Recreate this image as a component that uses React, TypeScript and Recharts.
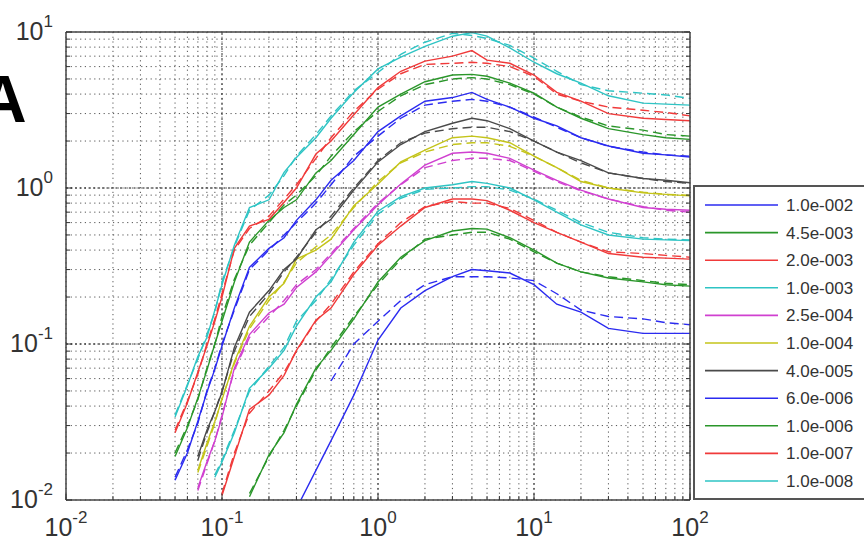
import { LineChart, Line, XAxis, YAxis, CartesianGrid, ReferenceLine } from 'recharts'

// shared x positions (log spaced)
const xValues = [0.05, 0.06, 0.07, 0.08, 0.09, 0.1, 0.12, 0.15, 0.2, 0.25, 0.3, 0.4, 0.5, 0.7, 1, 1.4, 2, 3, 4, 5, 7, 10, 14, 20, 30, 50, 70, 100]

// solid curves
const s1e2 = [null, null, null, null, null, null, null, null, null, null, 0.0088, 0.0155, 0.024, 0.047, 0.106, 0.17, 0.22, 0.27, 0.3, 0.295, 0.285, 0.24, 0.18, 0.16, 0.126, 0.117, 0.117, 0.117]
const s45e3 = [null, null, null, null, null, null, null, 0.0105, 0.0195, 0.027, 0.041, 0.07, 0.091, 0.145, 0.25, 0.36, 0.46, 0.53, 0.55, 0.545, 0.48, 0.4, 0.33, 0.29, 0.265, 0.25, 0.24, 0.235]
const s2e3 = [null, null, null, null, null, 0.0107, 0.019, 0.038, 0.047, 0.063, 0.091, 0.142, 0.17, 0.28, 0.43, 0.57, 0.75, 0.85, 0.85, 0.83, 0.72, 0.6, 0.52, 0.45, 0.38, 0.36, 0.355, 0.35]
const s1e3 = [null, null, null, null, 0.014, 0.0175, 0.027, 0.052, 0.07, 0.091, 0.13, 0.2, 0.25, 0.45, 0.71, 0.88, 1.0, 1.05, 1.1, 1.07, 1.0, 0.84, 0.7, 0.58, 0.5, 0.47, 0.465, 0.46]
const s25e4 = [null, null, 0.012, 0.0175, 0.024, 0.034, 0.07, 0.115, 0.158, 0.18, 0.23, 0.29, 0.37, 0.54, 0.78, 1.06, 1.4, 1.67, 1.7, 1.67, 1.55, 1.3, 1.12, 0.97, 0.85, 0.75, 0.73, 0.72]
const s1e4 = [null, null, 0.0155, 0.023, 0.032, 0.044, 0.077, 0.13, 0.2, 0.245, 0.35, 0.4, 0.47, 0.77, 1.06, 1.47, 1.75, 2.1, 2.15, 2.1, 1.95, 1.6, 1.35, 1.1, 1.0, 0.93, 0.91, 0.89]
const s4e5 = [null, null, 0.019, 0.028, 0.037, 0.049, 0.095, 0.16, 0.22, 0.3, 0.35, 0.54, 0.63, 0.97, 1.47, 1.9, 2.3, 2.6, 2.8, 2.7, 2.4, 2.0, 1.7, 1.5, 1.25, 1.15, 1.12, 1.08]
const s6e6 = [0.0134, 0.02, 0.032, 0.049, 0.069, 0.097, 0.17, 0.31, 0.41, 0.48, 0.62, 0.84, 1.12, 1.5, 2.3, 2.9, 3.6, 3.8, 4.1, 3.7, 3.3, 2.8, 2.5, 2.1, 1.86, 1.67, 1.63, 1.58]
const s1e6 = [0.019, 0.029, 0.045, 0.068, 0.1, 0.14, 0.25, 0.45, 0.62, 0.75, 0.84, 1.25, 1.5, 2.2, 3.3, 4.0, 4.8, 5.3, 5.35, 5.2, 4.7, 4.05, 3.3, 2.8, 2.4, 2.2, 2.1, 2.05]
const s1e7 = [0.027, 0.042, 0.066, 0.097, 0.14, 0.2, 0.41, 0.57, 0.63, 0.81, 1.0, 1.65, 2.0, 2.95, 4.4, 5.6, 6.5, 7.0, 7.6, 6.6, 6.3, 5.3, 4.1, 3.6, 3.0, 2.8, 2.75, 2.7]
const s1e8 = [0.034, 0.054, 0.083, 0.11, 0.165, 0.24, 0.43, 0.75, 0.84, 1.26, 1.57, 2.1, 2.8, 4.1, 5.8, 6.9, 8.1, 9.4, 9.9, 9.4, 7.9, 6.4, 5.4, 4.7, 3.9, 3.5, 3.45, 3.4]

// dashed curves
const d1e2 = [null, null, null, null, null, null, null, null, null, null, null, null, 0.058, 0.1, 0.14, 0.19, 0.24, 0.27, 0.27, 0.27, 0.265, 0.255, 0.21, 0.165, 0.15, 0.145, 0.137, 0.133]
const d45e3 = [null, null, null, null, null, null, null, 0.011, 0.019, 0.028, 0.04, 0.068, 0.095, 0.15, 0.24, 0.35, 0.47, 0.5, 0.52, 0.52, 0.47, 0.39, 0.33, 0.29, 0.27, 0.255, 0.245, 0.24]
const d2e3 = [null, null, null, null, null, 0.011, 0.02, 0.036, 0.05, 0.066, 0.09, 0.14, 0.18, 0.29, 0.44, 0.6, 0.76, 0.82, 0.8, 0.8, 0.74, 0.62, 0.52, 0.45, 0.39, 0.38, 0.37, 0.36]
const d1e3 = [null, null, null, null, 0.0145, 0.018, 0.028, 0.05, 0.072, 0.095, 0.14, 0.19, 0.26, 0.43, 0.68, 0.86, 0.98, 1.0, 1.02, 1.02, 0.97, 0.85, 0.72, 0.6, 0.52, 0.48, 0.47, 0.465]
const d25e4 = [null, null, 0.0115, 0.017, 0.024, 0.035, 0.068, 0.11, 0.15, 0.19, 0.24, 0.3, 0.38, 0.55, 0.8, 1.05, 1.35, 1.5, 1.55, 1.55, 1.5, 1.28, 1.1, 0.96, 0.85, 0.76, 0.72, 0.7]
const d1e4 = [null, null, 0.015, 0.022, 0.031, 0.045, 0.075, 0.125, 0.19, 0.25, 0.33, 0.42, 0.5, 0.75, 1.1, 1.45, 1.7, 1.9, 1.95, 1.95, 1.85, 1.6, 1.35, 1.12, 1.0, 0.94, 0.91, 0.9]
const d4e5 = [null, null, 0.018, 0.027, 0.037, 0.05, 0.09, 0.15, 0.21, 0.29, 0.36, 0.52, 0.66, 1.0, 1.5, 1.95, 2.25, 2.4, 2.45, 2.45, 2.3, 2.0, 1.7, 1.45, 1.25, 1.15, 1.1, 1.07]
const d6e6 = [0.014, 0.021, 0.031, 0.05, 0.07, 0.1, 0.165, 0.3, 0.4, 0.5, 0.6, 0.8, 1.05, 1.6, 2.15, 2.8, 3.4, 3.6, 3.7, 3.6, 3.3, 2.85, 2.45, 2.1, 1.85, 1.7, 1.63, 1.6]
const d1e6 = [0.02, 0.03, 0.044, 0.07, 0.1, 0.15, 0.26, 0.43, 0.6, 0.78, 0.9, 1.2, 1.6, 2.3, 3.1, 3.9, 4.6, 5.0, 5.1, 5.0, 4.6, 4.0, 3.3, 2.85, 2.5, 2.35, 2.2, 2.15]
const d1e7 = [0.028, 0.043, 0.064, 0.1, 0.145, 0.21, 0.4, 0.55, 0.66, 0.85, 1.05, 1.55, 2.1, 3.1, 4.3, 5.4, 6.2, 6.3, 6.4, 6.3, 6.0, 5.2, 4.0, 3.6, 3.3, 3.15, 3.05, 2.9]
const d1e8 = [0.035, 0.055, 0.08, 0.115, 0.16, 0.25, 0.42, 0.72, 0.9, 1.2, 1.6, 2.2, 2.9, 4.2, 5.5, 7.2, 8.6, 9.8, 9.5, 9.1, 8.2, 6.8, 5.6, 4.6, 4.2, 4.05, 3.95, 3.75]

const seriesNames = ['1.0e-002', '4.5e-003', '2.0e-003', '1.0e-003', '2.5e-004', '1.0e-004', '4.0e-005', '6.0e-006', '1.0e-006', '1.0e-007', '1.0e-008']
const seriesColors = ['#2b2bf0', '#2a962a', '#f03a3a', '#2ec4c4', '#d040d0', '#c4c41a', '#4a4a4a', '#2b2bf0', '#2a962a', '#f03a3a', '#2ec4c4']
const solidSeries = [s1e2, s45e3, s2e3, s1e3, s25e4, s1e4, s4e5, s6e6, s1e6, s1e7, s1e8]
const dashedSeries = [d1e2, d45e3, d2e3, d1e3, d25e4, d1e4, d4e5, d6e6, d1e6, d1e7, d1e8]

const xTicks = [0.01, 0.02, 0.03, 0.04, 0.05, 0.06, 0.07, 0.08, 0.09, 0.1, 0.2, 0.3, 0.4, 0.5, 0.6, 0.7, 0.8, 0.9, 1, 2, 3, 4, 5, 6, 7, 8, 9, 10, 20, 30, 40, 50, 60, 70, 80, 90, 100]
const yTicks = [0.01, 0.02, 0.03, 0.04, 0.05, 0.06, 0.07, 0.08, 0.09, 0.1, 0.2, 0.3, 0.4, 0.5, 0.6, 0.7, 0.8, 0.9, 1, 2, 3, 4, 5, 6, 7, 8, 9, 10]
const majorX = [0.1, 1, 10]
const majorY = [0.1, 1]

const FONT = '"Liberation Sans", Arial, sans-serif'

const isDecade = (v: number) => Math.abs(Math.log10(v) - Math.round(Math.log10(v))) < 1e-6

const rows = xValues.map((x, i) => {
  const row: Record<string, number | null> = { x }
  solidSeries.forEach((arr, k) => {
    row[`s${k}`] = arr[i]
    row[`d${k}`] = dashedSeries[k][i]
  })
  return row
})

const BottomTick = (props: any) => {
  const { x, y, payload } = props
  const v = payload.value
  const major = isDecade(v)
  return (
    <g>
      <line x1={x} x2={x} y1={y} y2={y - (major ? 6 : 4)} stroke="#333" />
      {major && (
        <text x={x} y={y + 36} textAnchor="middle" fontSize={25} fill="#333" fontFamily={FONT}>
          <tspan>10</tspan>
          <tspan dy={-13} fontSize={17}>{Math.round(Math.log10(v))}</tspan>
        </text>
      )}
    </g>
  )
}

const TopTick = (props: any) => {
  const { x, y, payload } = props
  const major = isDecade(payload.value)
  return <line x1={x} x2={x} y1={y} y2={y + (major ? 6 : 4)} stroke="#333" />
}

const LeftTick = (props: any) => {
  const { x, y, payload } = props
  const v = payload.value
  const major = isDecade(v)
  return (
    <g>
      <line x1={x} x2={x + (major ? 6 : 4)} y1={y} y2={y} stroke="#333" />
      {major && (
        <text x={x - 13} y={y + 8} textAnchor="end" fontSize={25} fill="#333" fontFamily={FONT}>
          <tspan>10</tspan>
          <tspan dy={-13} fontSize={17}>{Math.round(Math.log10(v))}</tspan>
        </text>
      )}
    </g>
  )
}

const RightTick = (props: any) => {
  const { x, y, payload } = props
  const major = isDecade(payload.value)
  return <line x1={x} x2={x - (major ? 6 : 4)} y1={y} y2={y} stroke="#333" />
}

const axisLine = { stroke: '#444', strokeWidth: 1.5 }

const LegendBox = () => (
  <svg width={171} height={316} style={{ position: 'absolute', left: 693, top: 185 }}>
    <rect x={1} y={1} width={200} height={313} fill="#fff" stroke="#555" strokeWidth={2} />
    {seriesNames.map((name, k) => {
      const cy = 20 + k * 27.6
      return (
        <g key={name}>
          <line x1={12} x2={85} y1={cy} y2={cy} stroke={seriesColors[k]} strokeWidth={1.6} />
          <text x={93} y={cy + 6} fontSize={17} fill="#333" fontFamily={FONT}>{name}</text>
        </g>
      )
    })}
  </svg>
)

export default function App() {
  return (
    <div style={{ position: 'absolute', left: 0, top: 0, width: 864, height: 542, background: '#fff', overflow: 'hidden', fontFamily: FONT }}>
      <LineChart width={864} height={542} data={rows} margin={{ top: 31, right: 173, bottom: 41, left: 65 }}>
        <CartesianGrid stroke="#555" strokeDasharray="1.2 3.5" />
        {majorX.map((v) => (
          <ReferenceLine key={`mx${v}`} x={v} stroke="#333" strokeDasharray="2 3" />
        ))}
        {majorY.map((v) => (
          <ReferenceLine key={`my${v}`} y={v} stroke="#111" strokeDasharray="2 2.5" />
        ))}
        <XAxis dataKey="x" type="number" scale="log" domain={[0.01, 100]} ticks={xTicks} allowDataOverflow
          height={1} tickSize={0} tickMargin={0} axisLine={axisLine} tickLine={false} tick={BottomTick} interval={0} />
        <XAxis xAxisId="top" orientation="top" type="number" scale="log" domain={[0.01, 100]} ticks={xTicks} allowDataOverflow
          height={1} tickSize={0} tickMargin={0} axisLine={axisLine} tickLine={false} tick={TopTick} interval={0} />
        <YAxis type="number" scale="log" domain={[0.01, 10]} ticks={yTicks} allowDataOverflow
          width={1} tickSize={0} tickMargin={0} axisLine={axisLine} tickLine={false} tick={LeftTick} interval={0} />
        <YAxis yAxisId="right" orientation="right" type="number" scale="log" domain={[0.01, 10]} ticks={yTicks} allowDataOverflow
          width={1} tickSize={0} tickMargin={0} axisLine={axisLine} tickLine={false} tick={RightTick} interval={0} />
        {solidSeries.map((_, k) => (
          <Line key={`d${k}`} dataKey={`d${k}`} stroke={seriesColors[k]} strokeWidth={1.4} strokeDasharray="9 5"
            dot={false} isAnimationActive={false} type="linear" />
        ))}
        {solidSeries.map((_, k) => (
          <Line key={`s${k}`} dataKey={`s${k}`} stroke={seriesColors[k]} strokeWidth={1.4}
            dot={false} isAnimationActive={false} type="linear" />
        ))}
      </LineChart>
      <LegendBox />
      <div style={{ position: 'absolute', left: -21, top: 66, fontSize: 66, lineHeight: 1, fontWeight: 'bold', color: '#000', fontFamily: FONT }}>A</div>
    </div>
  )
}
